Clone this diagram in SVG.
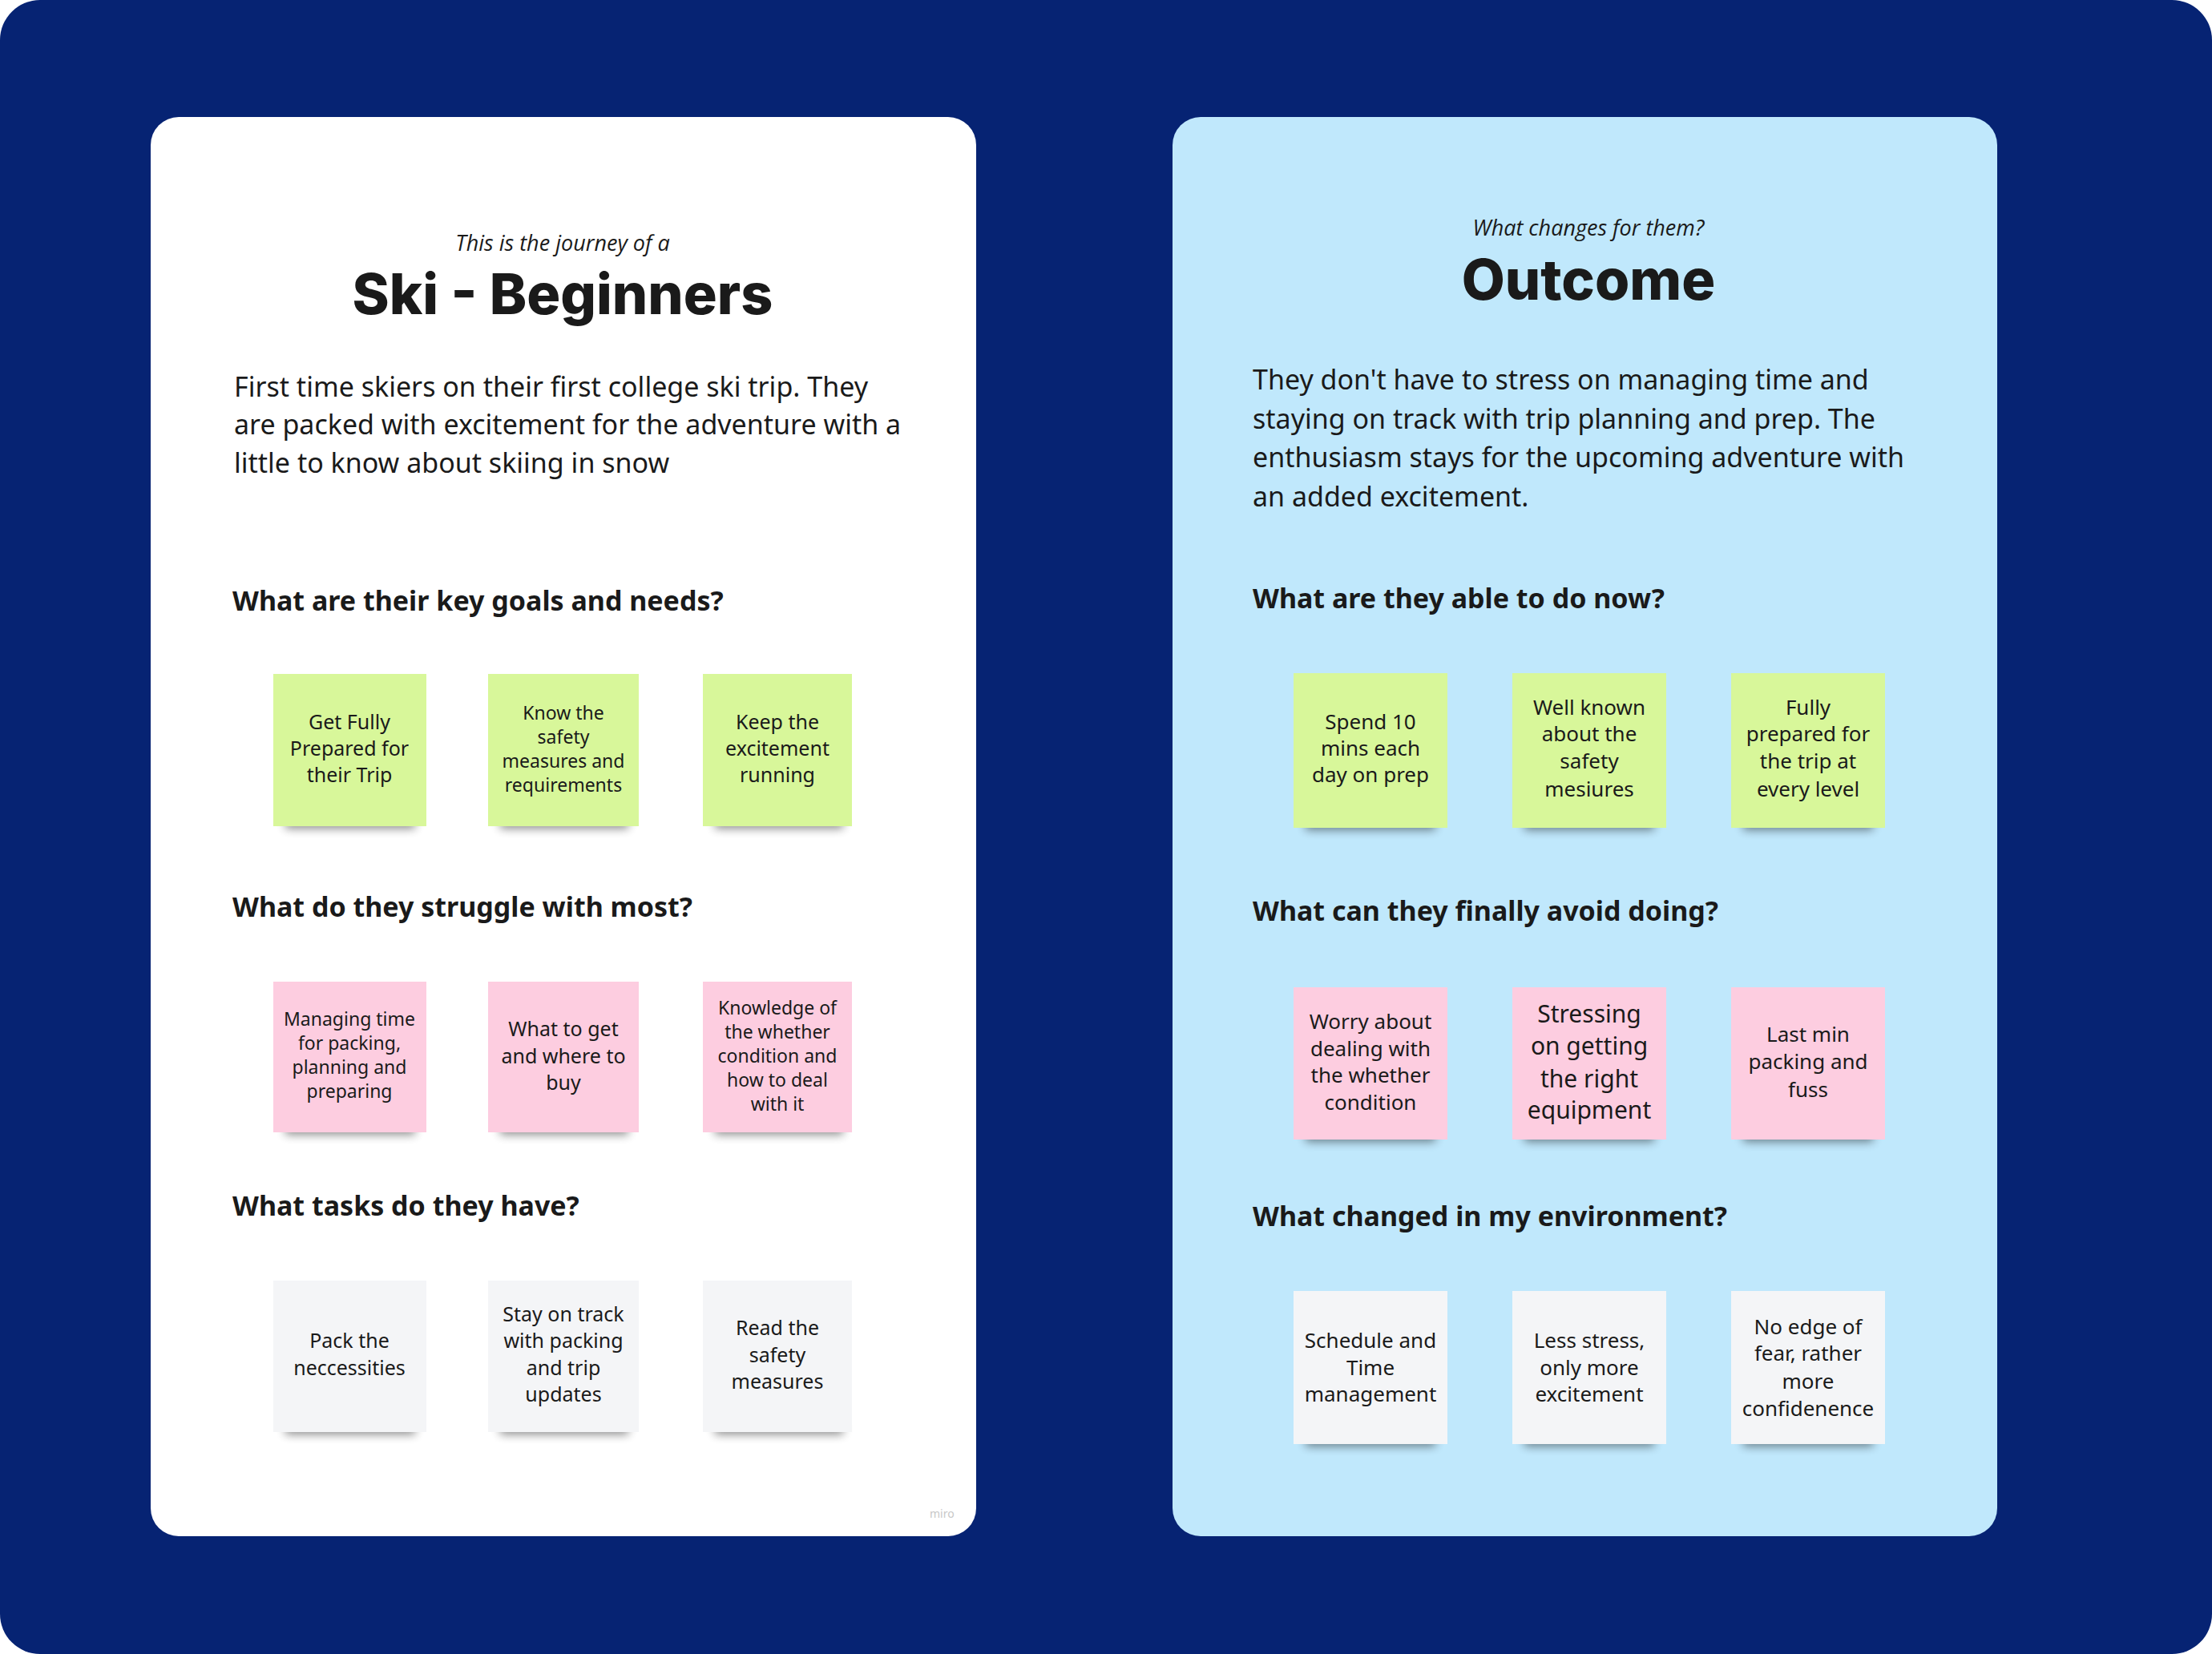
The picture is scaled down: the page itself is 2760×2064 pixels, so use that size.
<svg xmlns="http://www.w3.org/2000/svg" width="2760" height="2064" viewBox="0 0 2760 2064">
<defs>
<filter id="sh" x="-20%" y="-100%" width="140%" height="300%"><feGaussianBlur stdDeviation="6"/></filter>
<style>
.sub{font-family:"Open Sans","Noto Sans",sans-serif;font-style:italic;font-size:27px;fill:#1a1a1a;text-anchor:middle}
.ttl{font-family:Inter,Roboto,sans-serif;font-weight:800;font-size:70px;fill:#1a1a1a;text-anchor:middle}
.par{font-family:"Noto Sans","Open Sans",sans-serif;font-size:34px;fill:#1a1a1a}
.hd{font-family:"Noto Sans","Open Sans",sans-serif;font-weight:700;font-size:34px;fill:#1a1a1a}
.st{font-family:"Noto Sans","Open Sans",sans-serif;font-size:25px;fill:#1a1a1a;text-anchor:middle;dominant-baseline:central}
.sm{font-size:23px}
.lg{font-size:30px}
.rt{font-size:26px}
.g{fill:#d8f79a}.p{fill:#fdcde0}.w{fill:#f4f5f7}
.shd{fill:#000;opacity:0.45;filter:url(#sh)}
.miro{font-family:"Noto Sans",sans-serif;font-size:14px;fill:#c8c8c8}
</style>
</defs>
<rect width="2760" height="2064" fill="#ffffff"/>
<rect width="2760" height="2064" rx="50" fill="#062373"/>
<g id="panel-left">
<rect x="188" y="146" width="1030" height="1771" rx="35" fill="#ffffff"/>
<text class="sub" x="702" y="313">This is the journey of a</text>
<text class="ttl" x="702" y="392">Ski - Beginners</text>
<text class="par" x="292" y="495">First time skiers on their first college ski trip. They</text>
<text class="par" x="292" y="542">are packed with excitement for the adventure with a</text>
<text class="par" x="292" y="590">little to know about skiing in snow</text>
<text class="hd" x="290" y="762">What are their key goals and needs?</text>
<text class="hd" x="290" y="1144">What do they struggle with most?</text>
<text class="hd" x="290" y="1517">What tasks do they have?</text>
<text class="miro" x="1160" y="1894">miro</text>
</g>
<g id="panel-right">
<rect x="1463" y="146" width="1029" height="1771" rx="35" fill="#c0e8fc"/>
<text class="sub" x="1982" y="294">What changes for them?</text>
<text class="ttl" x="1982" y="374">Outcome</text>
<text class="par" x="1563" y="486">They don't have to stress on managing time and</text>
<text class="par" x="1563" y="535">staying on track with trip planning and prep. The</text>
<text class="par" x="1563" y="583">enthusiasm stays for the upcoming adventure with</text>
<text class="par" x="1563" y="632">an added excitement.</text>
<text class="hd" x="1563" y="759">What are they able to do now?</text>
<text class="hd" x="1563" y="1149">What can they finally avoid doing?</text>
<text class="hd" x="1563" y="1530">What changed in my environment?</text>
</g>
<g id="left-goals-1"><rect class="shd" x="356" y="1020" width="162" height="14"/><rect class="g" x="341" y="841" width="191" height="190"/>
<text class="st" x="436" y="899.5">Get Fully</text><text class="st" x="436" y="933">Prepared for</text><text class="st" x="436" y="966">their Trip</text></g>
<g id="left-goals-2"><rect class="shd" x="624" y="1020" width="160" height="14"/><rect class="g" x="609" y="841" width="188" height="190"/>
<text class="st sm" x="703" y="889">Know the</text><text class="st sm" x="703" y="919">safety</text><text class="st sm" x="703" y="949">measures and</text><text class="st sm" x="703" y="979">requirements</text></g>
<g id="left-goals-3"><rect class="shd" x="892" y="1020" width="160" height="14"/><rect class="g" x="877" y="841" width="186" height="190"/>
<text class="st" x="970" y="899.5">Keep the</text><text class="st" x="970" y="933">excitement</text><text class="st" x="970" y="966">running</text></g>
<g id="left-struggle-1"><rect class="shd" x="356" y="1402" width="162" height="14"/><rect class="p" x="341" y="1225" width="191" height="188"/>
<text class="st sm" x="436" y="1271">Managing time</text><text class="st sm" x="436" y="1301">for packing,</text><text class="st sm" x="436" y="1331">planning and</text><text class="st sm" x="436" y="1361">preparing</text></g>
<g id="left-struggle-2"><rect class="shd" x="624" y="1402" width="160" height="14"/><rect class="p" x="609" y="1225" width="188" height="188"/>
<text class="st" x="703" y="1283">What to get</text><text class="st" x="703" y="1317">and where to</text><text class="st" x="703" y="1350">buy</text></g>
<g id="left-struggle-3"><rect class="shd" x="892" y="1402" width="160" height="14"/><rect class="p" x="877" y="1225" width="186" height="188"/>
<text class="st sm" x="970" y="1257">Knowledge of</text><text class="st sm" x="970" y="1287">the whether</text><text class="st sm" x="970" y="1317">condition and</text><text class="st sm" x="970" y="1347">how to deal</text><text class="st sm" x="970" y="1377">with it</text></g>
<g id="left-tasks-1"><rect class="shd" x="356" y="1776" width="162" height="14"/><rect class="w" x="341" y="1598" width="191" height="189"/>
<text class="st" x="436" y="1672">Pack the</text><text class="st" x="436" y="1706">neccessities</text></g>
<g id="left-tasks-2"><rect class="shd" x="624" y="1776" width="160" height="14"/><rect class="w" x="609" y="1598" width="188" height="189"/>
<text class="st" x="703" y="1639">Stay on track</text><text class="st" x="703" y="1672">with packing</text><text class="st" x="703" y="1706">and trip</text><text class="st" x="703" y="1739">updates</text></g>
<g id="left-tasks-3"><rect class="shd" x="892" y="1776" width="160" height="14"/><rect class="w" x="877" y="1598" width="186" height="189"/>
<text class="st" x="970" y="1656">Read the</text><text class="st" x="970" y="1690">safety</text><text class="st" x="970" y="1723">measures</text></g>
<g id="right-able-1"><rect class="shd" x="1629" y="1022" width="162" height="14"/><rect class="g" x="1614" y="840" width="192" height="193"/>
<text class="st rt" x="1710" y="899.5">Spend 10</text><text class="st rt" x="1710" y="933">mins each</text><text class="st rt" x="1710" y="966">day on prep</text></g>
<g id="right-able-2"><rect class="shd" x="1902" y="1022" width="162" height="14"/><rect class="g" x="1887" y="840" width="192" height="193"/>
<text class="st rt" x="1983" y="882">Well known</text><text class="st rt" x="1983" y="915">about the</text><text class="st rt" x="1983" y="949">safety</text><text class="st rt" x="1983" y="984">mesiures</text></g>
<g id="right-able-3"><rect class="shd" x="2175" y="1022" width="162" height="14"/><rect class="g" x="2160" y="840" width="192" height="193"/>
<text class="st rt" x="2256" y="882">Fully</text><text class="st rt" x="2256" y="915">prepared for</text><text class="st rt" x="2256" y="949">the trip at</text><text class="st rt" x="2256" y="984">every level</text></g>
<g id="right-avoid-1"><rect class="shd" x="1629" y="1411" width="162" height="14"/><rect class="p" x="1614" y="1232" width="192" height="190"/>
<text class="st rt" x="1710" y="1274">Worry about</text><text class="st rt" x="1710" y="1308">dealing with</text><text class="st rt" x="1710" y="1341">the whether</text><text class="st rt" x="1710" y="1375">condition</text></g>
<g id="right-avoid-2"><rect class="shd" x="1902" y="1411" width="162" height="14"/><rect class="p" x="1887" y="1232" width="192" height="190"/>
<text class="st lg" x="1983" y="1264">Stressing</text><text class="st lg" x="1983" y="1304">on getting</text><text class="st lg" x="1983" y="1345">the right</text><text class="st lg" x="1983" y="1384">equipment</text></g>
<g id="right-avoid-3"><rect class="shd" x="2175" y="1411" width="162" height="14"/><rect class="p" x="2160" y="1232" width="192" height="190"/>
<text class="st rt" x="2256" y="1290">Last min</text><text class="st rt" x="2256" y="1324">packing and</text><text class="st rt" x="2256" y="1359">fuss</text></g>
<g id="right-env-1"><rect class="shd" x="1629" y="1791" width="162" height="14"/><rect class="w" x="1614" y="1611" width="192" height="191"/>
<text class="st rt" x="1710" y="1672">Schedule and</text><text class="st rt" x="1710" y="1706">Time</text><text class="st rt" x="1710" y="1739">management</text></g>
<g id="right-env-2"><rect class="shd" x="1902" y="1791" width="162" height="14"/><rect class="w" x="1887" y="1611" width="192" height="191"/>
<text class="st rt" x="1983" y="1672">Less stress,</text><text class="st rt" x="1983" y="1706">only more</text><text class="st rt" x="1983" y="1739">excitement</text></g>
<g id="right-env-3"><rect class="shd" x="2175" y="1791" width="162" height="14"/><rect class="w" x="2160" y="1611" width="192" height="191"/>
<text class="st rt" x="2256" y="1655">No edge of</text><text class="st rt" x="2256" y="1688">fear, rather</text><text class="st rt" x="2256" y="1723">more</text><text class="st rt" x="2256" y="1757">confidenence</text></g>
<g id="connectors"/>
</svg>
